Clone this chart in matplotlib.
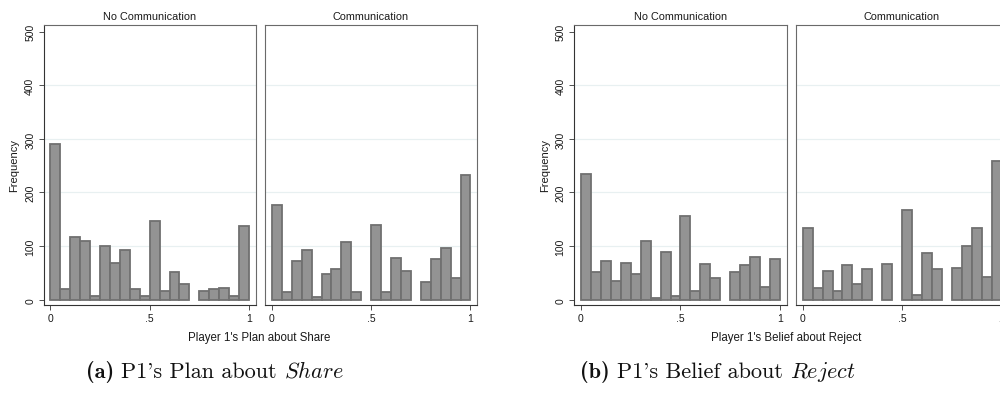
import matplotlib
matplotlib.use('Agg')
import matplotlib.pyplot as plt
import numpy as np

W, H = 1000, 402
DPI = 100
FONT = 'Liberation Sans'

# histogram bins: 20 bins of width .05 on [0, 1]
BIN_WIDTH = 0.05
bin_left = np.round(np.arange(20) * BIN_WIDTH, 2)

groups = ["No Communication", "Communication"]

# (a) Player 1's plan about Share
share_nocomm = [290, 20, 116, 109, 7, 101, 69, 92, 19, 6,
                146, 17, 51, 29, 0, 17, 19, 21, 6, 137]
share_comm = [176, 15, 73, 92, 5, 48, 57, 107, 14, 0,
              139, 15, 78, 54, 0, 33, 76, 96, 41, 232]

# (b) Player 1's belief about Reject
reject_nocomm = [234, 51, 72, 34, 68, 47, 109, 3, 88, 6,
                 156, 16, 66, 41, 0, 51, 64, 79, 23, 75]
reject_comm = [134, 21, 54, 16, 65, 29, 57, 0, 66, 0,
               168, 8, 87, 58, 0, 59, 101, 133, 43, 258]

y_ticks = [0, 100, 200, 300, 400, 500]
x_ticks = [0, 0.5, 1]
x_ticklabels = ["0", ".5", "1"]

BAR_FACE = '#939393'
BAR_EDGE = '#707070'
GRID = '#e8f0f1'
FRAME = '#6a6a6a'
AXIS = '#333333'
TXT = '#1a1a1a'

plt.rcParams['font.family'] = FONT
plt.rcParams['mathtext.fontset'] = 'cm'
plt.rcParams['axes.unicode_minus'] = False


def px(x):
    return x / W


def py(y):
    return 1 - y / H


def panel(fig, left, right, counts, title, first):
    top, bottom = 26, 306
    ax = fig.add_axes([px(left), py(bottom), px(right - left), (bottom - top) / H])
    ax.set_xlim(-0.035, 1.033)
    ax.set_ylim(-10, 512.5)
    counts = np.asarray(counts)
    keep = counts > 0
    ax.bar(bin_left[keep], counts[keep], width=BIN_WIDTH, align='edge',
           color=BAR_FACE, edgecolor=BAR_EDGE, linewidth=1.3, zorder=3)
    for g in y_ticks[1:-1]:
        ax.axhline(g, color=GRID, linewidth=0.9, zorder=1)
    for s in ax.spines.values():
        s.set_color(FRAME)
        s.set_linewidth(0.8)
    ax.spines['bottom'].set_color(AXIS)
    ax.set_xticks(x_ticks)
    ax.set_xticklabels(x_ticklabels)
    ax.tick_params(axis='x', direction='out', length=3.5, width=0.6,
                   color=AXIS, labelsize=7.5, pad=2, labelcolor=TXT)
    ax.set_yticks(y_ticks)
    if first:
        ax.spines['left'].set_color(AXIS)
        ax.tick_params(axis='y', direction='out', length=3.5, width=0.6,
                       color=AXIS, labelsize=7.5, pad=2.5, labelcolor=TXT)
        for lab in ax.get_yticklabels():
            lab.set_rotation(90)
            lab.set_va('center')
        ax.set_ylabel("Frequency", fontsize=8, color=TXT, labelpad=4)
    else:
        ax.tick_params(axis='y', left=False, labelleft=False)
    fig.text(px((left + right) / 2), py(17.5), title, ha='center', va='center',
             fontsize=7.8, color=TXT)
    return ax


def caption(fig, xc, y, parts, size):
    # parts: list of (text, font family); laid out left to right, centred at xc
    renderer = fig.canvas.get_renderer()
    texts, widths = [], []
    for s, fam in parts:
        t = fig.text(0, py(y), s, family=fam, fontsize=size, ha='left',
                     va='baseline', color='#111111')
        texts.append(t)
        widths.append(t.get_window_extent(renderer).width)
    gap = size * DPI / 72 * 0.33
    total = sum(widths) + gap * (len(parts) - 1)
    x = xc - total / 2
    for t, w in zip(texts, widths):
        t.set_x(px(x))
        x += w + gap


fig = plt.figure(figsize=(W / DPI, H / DPI), dpi=DPI)
fig.patch.set_facecolor('white')

panel(fig, 43.5, 255.5, share_nocomm, groups[0], True)
panel(fig, 265, 477, share_comm, groups[1], False)
panel(fig, 574, 786.5, reject_nocomm, groups[0], True)
panel(fig, 795.7, 1008.2, reject_comm, groups[1], False)

fig.text(px(259), py(338), "Player 1's Plan about Share", ha='center',
         va='center', fontsize=8.3, color=TXT)
fig.text(px(786), py(338), "Player 1's Belief about Reject", ha='center',
         va='center', fontsize=8.3, color=TXT)

caption(fig, 215, 378, [("(a)", 'cmb10'), ("P1's Plan about", 'cmr10'),
                        (r"$\mathit{Share}$", 'cmr10')], 16)
caption(fig, 718, 378, [("(b)", 'cmb10'), ("P1's Belief about", 'cmr10'),
                        (r"$\mathit{Reject}$", 'cmr10')], 16)

fig.savefig('out.png', dpi=DPI, facecolor='white')
